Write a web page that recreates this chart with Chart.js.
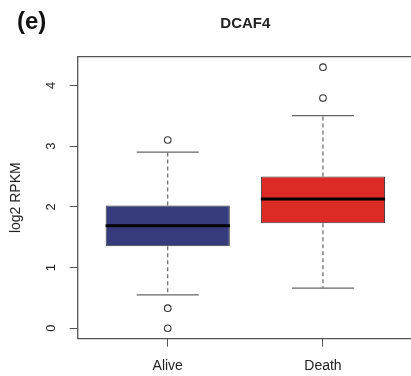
<!DOCTYPE html>
<html>
<head>
<meta charset="utf-8">
<script src="https://cdn.jsdelivr.net/npm/chart.js@4/dist/chart.umd.min.js"></script>
<style>
  html, body { margin: 0; padding: 0; background: #fff; overflow: hidden; width: 411px; height: 376px; }
  #wrap { position: relative; width: 492px; height: 376px; }
  #panel { position: absolute; left: 17px; top: 7px; font: bold 24px "Liberation Sans", Arial, sans-serif; color: #111; }
</style>
</head>
<body>
<div id="wrap">
  <canvas id="c" width="492" height="376"></canvas>
  <div id="panel">(e)</div>
</div>
<script>
// ---- data ----
const categories   = ['Alive', 'Death'];
const q1           = [1.35, 1.73];
const median       = [1.69, 2.13];
const q3           = [2.02, 2.50];
const whiskerLow   = [0.55, 0.66];
const whiskerHigh  = [2.90, 3.50];
const outliers     = [[3.10, 0.33, 0.00], [4.30, 3.79]];
const yTicks       = [0, 1, 2, 3, 4];
const boxColors    = ['#363b7c', '#dc2a24'];
const chartTitle   = 'DCAF4';
const yTitle       = 'log2 RPKM';

// ---- derived datasets ----
const capHalf = 0.2, boxHalf = 0.4;
const pos = categories.map((_, i) => i + 1);

const boxData = pos.map((x, i) => ({ x: x, y: [q1[i], q3[i]] }));
const medianData = [], whiskerData = [], capData = [], outlierData = [];
pos.forEach((x, i) => {
  medianData.push({ x: x - boxHalf, y: median[i] }, { x: x + boxHalf, y: median[i] }, { x: x + 0.5, y: null });
  whiskerData.push({ x: x, y: q3[i] }, { x: x, y: whiskerHigh[i] }, { x: x, y: null },
                   { x: x, y: q1[i] }, { x: x, y: whiskerLow[i] }, { x: x + 0.5, y: null });
  capData.push({ x: x - capHalf, y: whiskerHigh[i] }, { x: x + capHalf, y: whiskerHigh[i] }, { x: x + 0.5, y: null },
               { x: x - capHalf, y: whiskerLow[i] }, { x: x + capHalf, y: whiskerLow[i] }, { x: x + 0.55, y: null });
  outliers[i].forEach(v => outlierData.push({ x: x, y: v }));
});

const yMin = Math.min(...whiskerLow, ...outliers.flat());
const yMax = Math.max(...whiskerHigh, ...outliers.flat());
const ySpan = yMax - yMin;

const FONT = '"Liberation Sans", Arial, Helvetica, sans-serif';
const frameColor = '#555';

// plot frame (right side falls outside the visible window, as in the reference)
const framePlugin = {
  id: 'frame',
  afterDatasetsDraw(chart) {
    const a = chart.chartArea, ctx = chart.ctx;
    ctx.save();
    ctx.strokeStyle = frameColor;
    ctx.lineWidth = 1.3;
    ctx.beginPath();
    ctx.moveTo(chart.width, a.top);
    ctx.lineTo(a.left, a.top);
    ctx.lineTo(a.left, a.bottom);
    ctx.lineTo(chart.width, a.bottom);
    ctx.stroke();
    ctx.restore();
  }
};

new Chart(document.getElementById('c'), {
  type: 'bar',
  data: {
    datasets: [
      { type: 'line', data: medianData, borderColor: '#000', borderWidth: 3, pointRadius: 0, spanGaps: false, order: 0 },
      { type: 'scatter', data: outlierData, pointStyle: 'circle', pointRadius: 3.3, borderColor: '#333',
        backgroundColor: 'rgba(255,255,255,0)', borderWidth: 1.1, order: 1 },
      { type: 'bar', data: boxData, backgroundColor: boxColors, borderColor: '#3a3a3a', borderWidth: 1,
        borderSkipped: false, categoryPercentage: 1, barPercentage: 0.8, order: 2 },
      { type: 'line', data: capData, borderColor: '#666', borderWidth: 1.2, pointRadius: 0, spanGaps: false, order: 3 },
      { type: 'line', data: whiskerData, borderColor: '#555', borderWidth: 1.1, borderDash: [4, 3],
        pointRadius: 0, spanGaps: false, order: 4 }
    ]
  },
  options: {
    responsive: false,
    animation: false,
    devicePixelRatio: 1,
    layout: { padding: { left: 0, right: 79, top: 0, bottom: 0 } },
    plugins: {
      legend: { display: false },
      tooltip: { enabled: false },
      title: {
        display: true, text: chartTitle, color: '#222', fullSize: false,
        font: { family: FONT, size: 15, weight: 'bold' },
        padding: { top: 15, bottom: 23.7 }
      }
    },
    scales: {
      x: {
        type: 'linear',
        offset: false,
        min: 0.42, max: 2.58,
        afterBuildTicks: s => { s.ticks = pos.map(v => ({ value: v })); },
        afterFit: s => { s.height = 37.3; },
        ticks: {
          callback: v => categories[v - 1] || '',
          color: '#222', font: { family: FONT, size: 14 }, padding: 11,
          maxRotation: 0, minRotation: 0, autoSkip: false
        },
        grid: { display: true, offset: false, drawOnChartArea: false, drawTicks: true, tickLength: 8, color: frameColor, lineWidth: 1 },
        border: { display: false }
      },
      y: {
        type: 'linear',
        min: yMin - 0.04 * ySpan, max: yMax + 0.04 * ySpan,
        afterBuildTicks: s => { s.ticks = yTicks.map(v => ({ value: v })); },
        afterFit: s => { s.width = 77.7; },
        ticks: {
          color: '#222', font: { family: FONT, size: 13 }, padding: 15,
          minRotation: 90, maxRotation: 90, crossAlign: 'center', autoSkip: false
        },
        grid: { display: true, drawOnChartArea: false, drawTicks: true, tickLength: 8, color: frameColor, lineWidth: 1 },
        border: { display: false },
        title: {
          display: true, text: yTitle, color: '#222',
          font: { family: FONT, size: 14 }, padding: { top: 8, bottom: 0 }
        }
      }
    }
  },
  plugins: [framePlugin]
});
</script>
</body>
</html>
